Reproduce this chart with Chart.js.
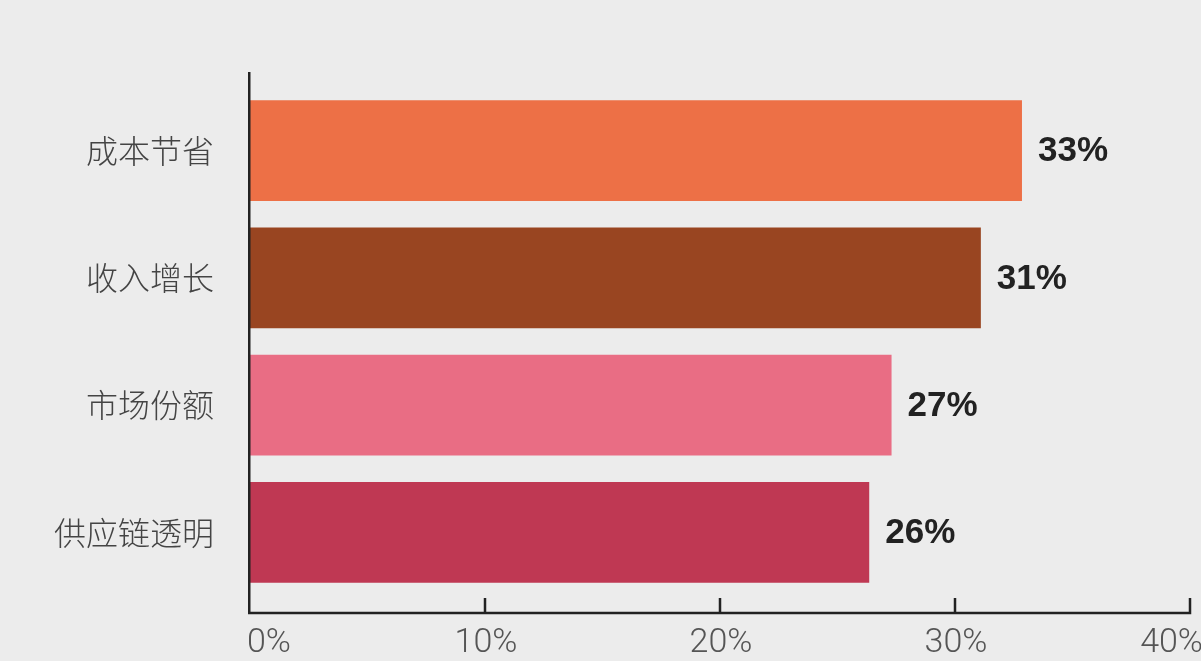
<!DOCTYPE html>
<html>
<head>
<meta charset="utf-8">
<script src="https://cdn.jsdelivr.net/npm/chart.js@4.4.1/dist/chart.umd.min.js"></script>
<style>
  html, body { margin: 0; padding: 0; background: #ececec; overflow: hidden; }
</style>
</head>
<body>
<canvas id="benefitChart" width="1201" height="661"></canvas>
<script>
const categories = ['成本节省', '收入增长', '市场份额', '供应链透明'];
const shares = [32.85, 31.1, 27.3, 26.35];
const barColors = ['#ed7046', '#994521', '#e96d84', '#bf3853'];
const xTicks = [0, 10, 20, 30, 40];

const bgPlugin = {
  id: 'bg',
  beforeDraw(chart) {
    const ctx = chart.ctx;
    ctx.save();
    ctx.fillStyle = '#ececec';
    ctx.fillRect(0, 0, chart.width, chart.height);
    ctx.restore();
  }
};

// axis lines extend a bit past the bars, ticks point up into the plot
const axisPlugin = {
  id: 'axes',
  afterDraw(chart) {
    const { ctx, chartArea } = chart;
    const x = chart.scales.x;
    const left = x.getPixelForValue(0) - 0.75;
    const right = x.getPixelForValue(40);
    const top = chartArea.top - 15;
    const base = chartArea.bottom + 17;
    ctx.save();
    ctx.strokeStyle = '#222';
    ctx.lineWidth = 2.5;
    ctx.beginPath();
    ctx.moveTo(left, top);
    ctx.lineTo(left, base + 1.25);
    ctx.moveTo(left - 1.25, base);
    ctx.lineTo(right + 1.25, base);
    xTicks.forEach(v => {
      const px = v === 0 ? left : x.getPixelForValue(v);
      ctx.moveTo(px, base);
      ctx.lineTo(px, base - 15);
    });
    ctx.stroke();

    ctx.fillStyle = '#555';
    ctx.font = '300 34px Roboto';
    ctx.textBaseline = 'middle';
    xTicks.forEach((v, i) => {
      const px = x.getPixelForValue(v);
      if (i === 0) { ctx.textAlign = 'left'; ctx.fillText(v + '%', px - 3, base + 30); }
      else if (i === xTicks.length - 1) { ctx.textAlign = 'right'; ctx.fillText(v + '%', px + 13, base + 30); }
      else { ctx.textAlign = 'center'; ctx.fillText(v + '%', px + 1, base + 30); }
    });
    ctx.restore();
  }
};

const valueLabels = {
  id: 'valueLabels',
  afterDatasetsDraw(chart) {
    const ctx = chart.ctx;
    const meta = chart.getDatasetMeta(0);
    ctx.save();
    ctx.fillStyle = '#222';
    ctx.font = 'bold 35px "Liberation Sans", Arial, sans-serif';
    ctx.textAlign = 'left';
    ctx.textBaseline = 'middle';
    meta.data.forEach((bar, i) => {
      ctx.fillText(Math.round(shares[i]) + '%', bar.x + 16, bar.y + 1);
    });
    ctx.restore();
  }
};

const ctx = document.getElementById('benefitChart').getContext('2d');
new Chart(ctx, {
  type: 'bar',
  data: {
    labels: categories,
    datasets: [{
      data: shares,
      backgroundColor: barColors,
      borderWidth: 0,
      barPercentage: 0.793,
      categoryPercentage: 1
    }]
  },
  options: {
    indexAxis: 'y',
    responsive: false,
    animation: false,
    layout: { padding: { top: 87, right: 11, bottom: 0, left: 0 } },
    plugins: {
      legend: { display: false },
      tooltip: { enabled: false }
    },
    scales: {
      x: {
        min: 0,
        max: 40,
        ticks: { display: false, stepSize: 10 },
        grid: { display: false, drawTicks: false },
        border: { display: false },
        afterFit(scale) { scale.height = 65; }
      },
      y: {
        ticks: {
          color: '#444',
          padding: 36,
          font: { family: '"Noto Sans CJK SC", sans-serif', size: 32, weight: '300' }
        },
        grid: { display: false, drawTicks: false },
        border: { display: false },
        afterFit(scale) { scale.width = 250; }
      }
    }
  },
  plugins: [bgPlugin, axisPlugin, valueLabels]
});
</script>
</body>
</html>
